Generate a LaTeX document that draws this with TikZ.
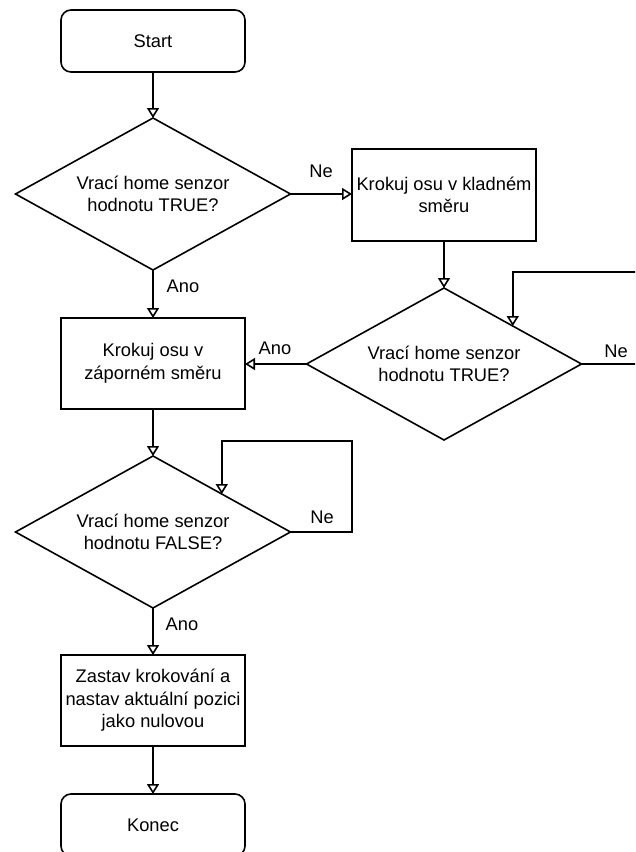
\documentclass[tikz,border=0pt]{standalone}
\usepackage{fontspec}
\setmainfont{Liberation Sans}
\usetikzlibrary{arrows.meta,shapes.geometric,calc}
\begin{document}
\begin{tikzpicture}[x=1pt,y=-1pt,line width=1.6pt,
  every node/.style={font=\fontsize{18.3}{22.5}\selectfont},
  termbox/.style={draw, rounded corners=10pt, minimum width=184pt, minimum height=62pt, inner sep=0pt, outer sep=0pt, align=center},
  procbox/.style={draw, minimum width=184pt, minimum height=92pt, inner sep=0pt, outer sep=0pt, align=center},
  decision/.style={draw, diamond, aspect=1.81, minimum width=275pt, minimum height=152pt, inner sep=0pt, outer sep=0pt, align=center},
  flow/.style={-{Triangle[open,length=10pt,width=12pt]}},
  lbl/.style={inner sep=0pt}
]
\useasboundingbox (0,0) rectangle (635,852);
\clip (0,0) rectangle (635,852);

\node[termbox] (start) at (153,41) {Start};
\node[decision] (d1) at (153,194) {Vrací home senzor\\hodnotu TRUE?};
\node[procbox] (p1) at (444,195) {Krokuj osu v kladném\\směru};
\node[decision] (d2) at (444,364) {Vrací home senzor\\hodnotu TRUE?};
\node[procbox, minimum height=91pt] (p2) at (153,363.5) {Krokuj osu v\\záporném směru};
\node[decision] (d3) at (153,532) {Vrací home senzor\\hodnotu FALSE?};
\node[procbox, minimum height=91pt] (p3) at (153,700.5) {Zastav krokování a\\nastav aktuální pozici\\jako nulovou};
\node[termbox] (end) at (153,825) {Konec};

\coordinate (l2) at (660,272);
\coordinate (l3) at (352,441);
\coordinate (m2) at ($(d2.north)!0.5!(d2.east)$);
\coordinate (m3) at ($(d3.north)!0.5!(d3.east)$);

\draw[flow] (start) -- (d1);
\draw[flow] (d1.east) -- (d1.east -| p1.west);
\draw[flow] (p1) -- (d2);
\draw[flow] (d1) -- (p2);
\draw[flow] (d2.west) -- (d2.west -| p2.east);
\draw[flow] (d2.east) -| (l2) -| (m2);
\draw[flow] (p2) -- (d3);
\draw[flow] (d3.east) -| (l3) -| (m3);
\draw[flow] (d3) -- (p3);
\draw[flow] (p3) -- (end);

\node[lbl] (ne1) at (321,171) {Ne};
\node[lbl] (ano1) at (183,286) {Ano};
\node[lbl] (ano2) at (275,348) {Ano};
\node[lbl] (ne2) at (616,351) {Ne};
\node[lbl] (ne3) at (322,517) {Ne};
\node[lbl] (ano3) at (182,624) {Ano};
\end{tikzpicture}
\end{document}
